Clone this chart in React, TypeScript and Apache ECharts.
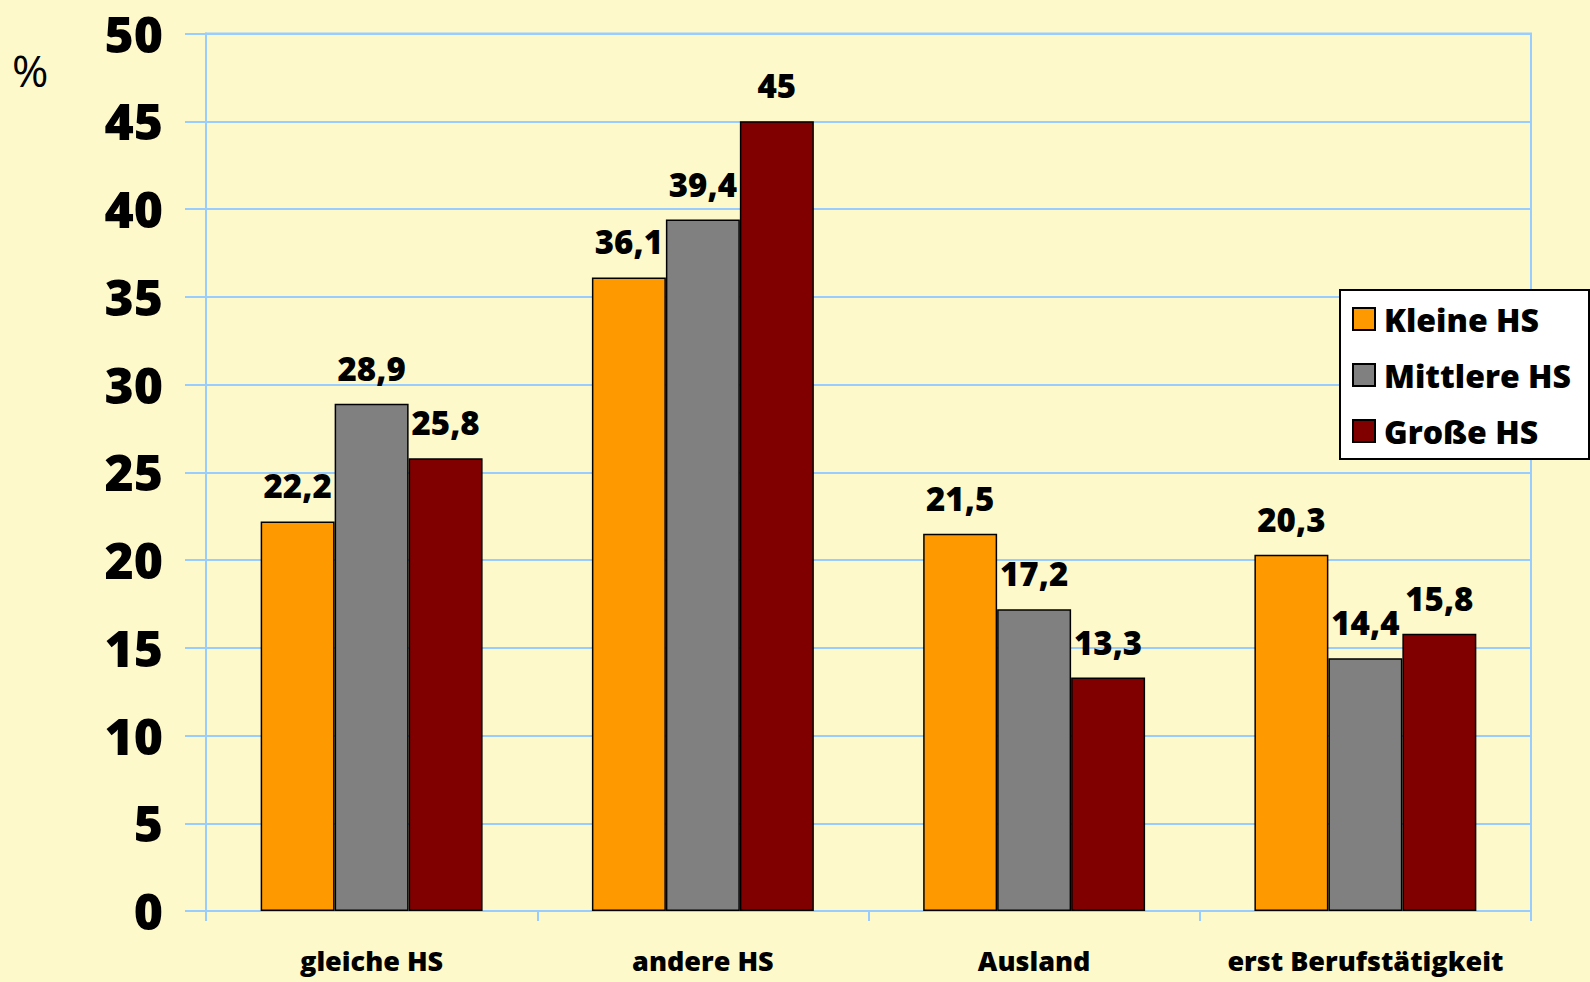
import React, { useEffect, useRef } from "react";
import * as echarts from "echarts";

const categories = ["gleiche HS", "andere HS", "Ausland", "erst Berufstätigkeit"];
const seriesNames = ["Kleine HS", "Mittlere HS", "Große HS"];
const kleine = [22.2, 36.1, 21.5, 20.3];
const mittlere = [28.9, 39.4, 17.2, 14.4];
const grosse = [25.8, 45, 13.3, 15.8];
const colors = ["#FF9900", "#808080", "#800000"];
const yMin = 0;
const yMax = 50;
const yStep = 5;

const FONT = "'Open Sans', 'DejaVu Sans', sans-serif";

export default function App() {
  const ref = useRef<HTMLDivElement>(null);
  useEffect(() => {
    if (!ref.current) return;
    const chart = echarts.init(ref.current, undefined, { renderer: "svg" });
    const values = [kleine, mittlere, grosse];
    const series = seriesNames.map((name, i) => ({
      name,
      type: "bar",
      data: values[i],
      barGap: "0%",
      barCategoryGap: "33%",
      itemStyle: { color: colors[i], borderColor: "#000", borderWidth: 1.5 },
      label: {
        show: true,
        position: "top",
        distance: 19,
        fontFamily: FONT,
        fontWeight: 800,
        fontSize: 33,
        color: "#000",
        formatter: (p: any) => String(p.value).replace(".", ","),
      },
    }));
    chart.setOption({
      animation: false,
      backgroundColor: "#FEF9CB",
      textStyle: { fontFamily: FONT },
      grid: {
        left: 206,
        right: 59,
        top: 33.5,
        bottom: 71,
        show: true,
        borderColor: "#99CCFF",
        borderWidth: 2,
        backgroundColor: "transparent",
      },
      legend: {
        orient: "vertical",
        left: 1340,
        top: 290,
        backgroundColor: "#FFFFFF",
        borderColor: "#000",
        borderWidth: 2,
        borderRadius: 0,
        padding: [13, 18, 12, 12],
        itemGap: 24,
        itemWidth: 22,
        itemHeight: 22,
        icon: "rect",
        textStyle: { fontFamily: FONT, fontWeight: 800, fontSize: 32, color: "#000", padding: [0, 0, 0, 4] },
        data: seriesNames,
      },
      xAxis: {
        type: "category",
        data: categories,
        axisLine: { show: true, lineStyle: { color: "#99CCFF", width: 2 } },
        axisTick: { show: true, interval: 0, length: 10, lineStyle: { color: "#99CCFF", width: 2 } },
        axisLabel: { interval: 0, fontFamily: FONT, fontWeight: 800, fontSize: 27, color: "#000", margin: 36 },
      },
      yAxis: {
        type: "value",
        min: yMin,
        max: yMax,
        interval: yStep,
        axisLine: { show: true, lineStyle: { color: "#99CCFF", width: 2 } },
        axisTick: { show: true, length: 21, lineStyle: { color: "#99CCFF", width: 2 } },
        splitLine: { show: true, lineStyle: { color: "#99CCFF", width: 2 } },
        axisLabel: { fontFamily: FONT, fontWeight: 800, fontSize: 50, color: "#000", margin: 43 },
      },
      graphic: [
        {
          type: "text",
          left: 12,
          top: 48,
          style: { text: "%", fontFamily: FONT, fontSize: 44, fill: "#000" },
        },
      ],
      series,
    });
    return () => chart.dispose();
  }, []);
  return (
    <div
      ref={ref}
      style={{ position: "fixed", left: 0, top: 0, width: 1590, height: 982 }}
    />
  );
}
